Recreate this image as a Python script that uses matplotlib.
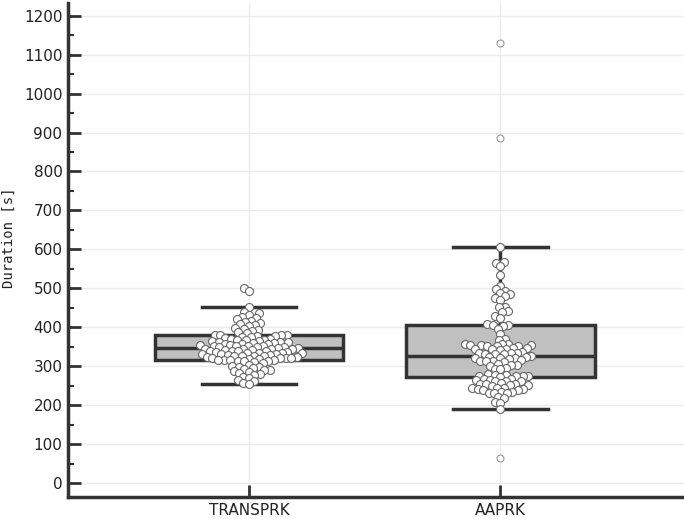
import matplotlib
matplotlib.use("Agg")
import numpy as np
import matplotlib.pyplot as plt
from matplotlib.ticker import MultipleLocator

# categories and values
groups = ["TRANSPRK", "AAPRK"]

transprk = [501, 492, 451, 440, 436, 432, 426, 423, 420, 417, 414, 411, 408, 405, 402,
            399, 396, 393, 390, 387, 384,
            381, 380, 379, 379, 378, 377, 376, 374, 372, 371, 370, 368, 367, 366, 365,
            364, 363, 362, 361, 360, 359, 358, 357, 356, 355, 354, 353, 352, 352, 351,
            350, 349, 348, 347, 346, 345, 345, 344, 343, 342, 341, 340, 339, 339, 338,
            337, 336, 335, 334, 333, 333, 332, 331, 330, 329, 328, 327, 327, 326, 325,
            324, 323, 322, 322, 321, 320, 319, 318, 317, 317, 316, 315, 314, 314, 313,
            310, 307, 304, 301, 299, 297, 295, 293, 291, 289, 287, 285, 283, 280, 277,
            273, 269, 265, 261, 257, 254]

aaprk = [607, 568, 565, 556, 533, 506, 497, 494, 488, 485, 479, 476, 469, 453, 451,
         441, 439, 429, 425,
         408, 407, 405, 404, 396, 383, 370, 368,
         358, 357, 356, 355, 355, 354, 353, 352, 351,
         347, 346, 345, 344, 343, 342,
         336, 335, 334, 333, 332, 331, 330,
         325, 324, 323, 322, 321, 320, 319,
         315, 314, 313, 312, 311,
         306, 304, 303, 301,
         296, 294, 292,
         279, 278, 277, 276, 276, 275, 274, 273,
         267, 266, 265, 264, 263, 262, 261,
         256, 255, 254, 253, 252, 251, 250,
         245, 244, 243, 242, 241, 240, 239,
         234, 233, 232, 231, 230,
         220, 217, 208, 205, 190]

# box statistics per group
q1 = [316, 272]
medians = [347, 326]
q3 = [379, 406]
whislo = [254, 190]
whishi = [451, 607]
fliers = [[], [1130, 885, 65]]

dark = "#333333"


def swarm_offsets(ys_px, d):
    # simple beeswarm: place each point (low to high) at the free spot closest to the centre
    placed = []
    out = np.zeros(len(ys_px))
    for i in np.argsort(ys_px, kind="stable"):
        y = ys_px[i]
        near = [(px, py) for px, py in placed if abs(y - py) < d]
        cands = [0.0]
        for px, py in near:
            dx = np.sqrt(d * d - (y - py) ** 2)
            cands += [px - dx, px + dx]
        cands.sort(key=abs)
        for c in cands:
            if all((c - px) ** 2 + (y - py) ** 2 >= d * d - 1e-6 for px, py in near):
                break
        placed.append((c, y))
        out[i] = c
    return out


fig = plt.figure(figsize=(6.84, 5.19), dpi=100)
ax = fig.add_axes([0.0994, 0.0424, 0.9006, 0.952])

stats = []
for i in range(len(groups)):
    stats.append({"med": medians[i], "q1": q1[i], "q3": q3[i],
                  "whislo": whislo[i], "whishi": whishi[i], "fliers": fliers[i]})

ax.bxp(stats, positions=[0, 1], widths=0.75, patch_artist=True,
       boxprops=dict(facecolor="#c0c0c0", edgecolor=dark, linewidth=2.5),
       whiskerprops=dict(color=dark, linewidth=2.5),
       capprops=dict(color=dark, linewidth=2.5),
       medianprops=dict(color=dark, linewidth=2.5),
       flierprops=dict(marker="o", markersize=5, markerfacecolor="white",
                       markeredgecolor="#999999", markeredgewidth=0.8))
ax.set_xlim(-0.72, 1.73)
ax.set_ylim(-36, 1233)

# swarm points, laid out in display pixels
for pos, vals in enumerate([transprk, aaprk]):
    vals = np.array(vals, dtype=float)
    disp = ax.transData.transform(np.column_stack([np.full(len(vals), pos), vals]))
    disp[:, 0] += swarm_offsets(disp[:, 1], 5.8)
    data = ax.transData.inverted().transform(disp)
    ax.scatter(data[:, 0], data[:, 1], s=33, facecolor="white", edgecolor="#666666",
               linewidth=0.8, zorder=5)

ax.set_xticks([0, 1])
ax.set_xticklabels(groups)
ax.yaxis.set_major_locator(MultipleLocator(100))
ax.yaxis.set_minor_locator(MultipleLocator(50))

ax.grid(True, color="#ebebeb", linewidth=1)
ax.set_axisbelow(True)

for side in ["top", "right"]:
    ax.spines[side].set_visible(False)
for side in ["left", "bottom"]:
    ax.spines[side].set_linewidth(2.5)
    ax.spines[side].set_color(dark)

ax.tick_params(axis="both", which="major", direction="in", length=9, width=2,
               color=dark, labelsize=11, labelcolor="#222222", pad=4)
ax.tick_params(axis="y", which="minor", direction="in", length=4.5, width=1.5, color=dark)

ax.set_ylabel("Duration [s]", fontfamily="DejaVu Sans Mono", fontsize=10,
              color="#222222", labelpad=6, y=0.525)

fig.savefig("out.png", dpi=100)
